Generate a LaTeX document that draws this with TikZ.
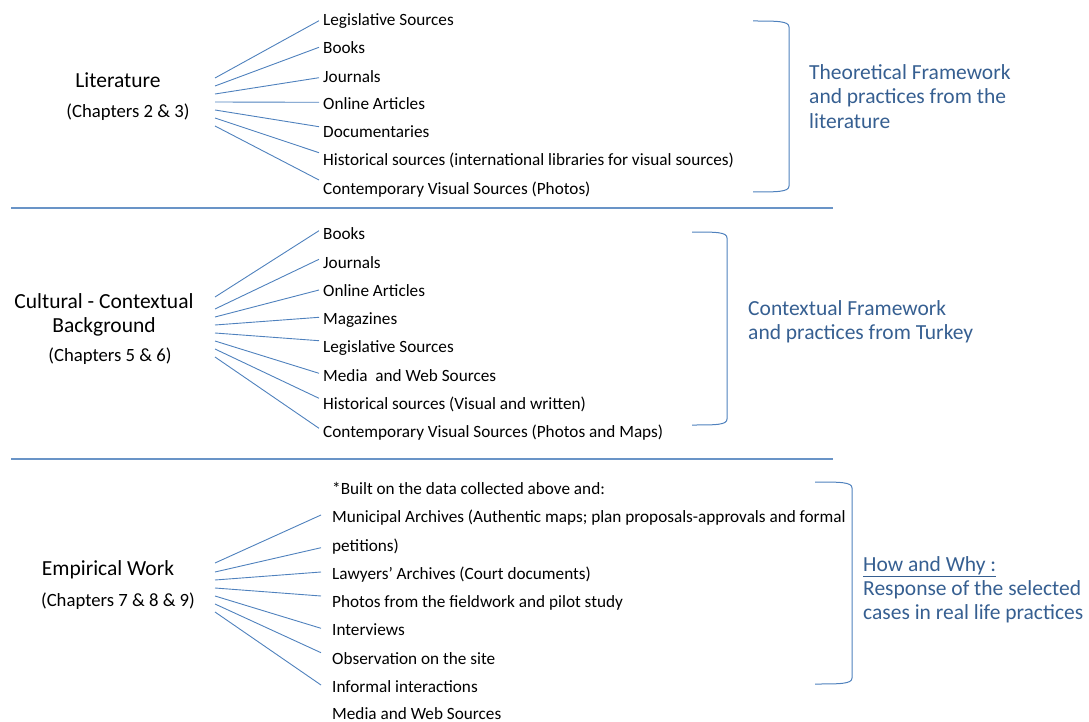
\documentclass[tikz,border=0pt]{standalone}
\usepackage{fontspec}
\setmainfont{Carlito}
\definecolor{lineblue}{HTML}{4F81BD}
\definecolor{textblue}{HTML}{365F91}
\begin{document}
\begin{tikzpicture}[x=1pt,y=-1pt,
  item/.style={anchor=west,inner sep=0pt,font=\fontsize{17.2}{20}\selectfont,text height=13pt,text depth=0pt},
  head/.style={inner sep=0pt,font=\fontsize{21.5}{24}\selectfont,text height=16pt,text depth=0pt},
  chap/.style={inner sep=0pt,font=\fontsize{18.7}{22}\selectfont,text height=14pt,text depth=0pt},
  frame/.style={anchor=west,inner sep=0pt,text=textblue,font=\fontsize{21.5}{24}\selectfont,text height=16pt,text depth=0pt},
  fan/.style={draw=lineblue,line width=0.9pt},
  rulerline/.style={draw=lineblue!85,line width=1.6pt},
  bracket/.style={draw=lineblue,line width=1pt}]
\useasboundingbox (0,0) rectangle (1089,722);

% ---------------- Literature ----------------
\node[head] (lit) at (118,80) {Literature};
\node[chap] (litch) at (128,111) {(Chapters 2 \& 3)};
\node[item] (L1) at (323,19.5) {Legislative Sources};
\node[item] (L2) at (323,47.5) {Books};
\node[item] (L3) at (323,76) {Journals};
\node[item] (L4) at (323,103.5) {Online Articles};
\node[item] (L5) at (323,131.5) {Documentaries};
\node[item] (L6) at (323,159.5) {Historical sources (international libraries for visual sources)};
\node[item] (L7) at (323,187.5) {Contemporary Visual Sources (Photos)};
\foreach \n/\sy/\dy in {1/78/-1.2,2/86/0.2,3/94/-1.7,4/102/1.2,5/110/4.8,6/118/6.8,7/126/7.5}{
  \coordinate (la\n) at (215,\sy);
  \draw[fan] (la\n) -- ([xshift=-4pt,yshift=\dy pt]L\n.west);
}
\draw[bracket] (753,21) .. controls (777,21) and (789,21) .. (789,27)
  -- (789,186) .. controls (789,192) and (777,192) .. (753,192);
\node[frame] (t1) at (809,71.5) {Theoretical Framework};
\node[frame] (t2) at (809,96) {and practices from the};
\node[frame] (t3) at (809,120.5) {literature};

\draw[rulerline] (11,208) -- (833,208);

% ---------------- Cultural background ----------------
\node[head] (cul1) at (104,300) {Cultural - Contextual};
\node[head] (cul2) at (104,324.5) {Background};
\node[chap] (culch) at (110,354) {(Chapters 5 \& 6)};
\node[item] (C1) at (323,233) {Books};
\node[item] (C2) at (323,262) {Journals};
\node[item] (C3) at (323,290) {Online Articles};
\node[item] (C4) at (323,318) {Magazines};
\node[item] (C5) at (323,346) {Legislative Sources};
\node[item] (C6) at (323,375) {Media~ and Web Sources};
\node[item] (C7) at (323,403) {Historical sources (Visual and written)};
\node[item] (C8) at (323,431) {Contemporary Visual Sources (Photos and Maps)};
\foreach \n/\sy/\dy in {1/297/2.3,2/309/2.7,3/317/0,4/325/0.7,5/333/5.3,6/341/1.7,7/349/4.7,8/357/2.7}{
  \coordinate (ca\n) at (215,\sy);
  \draw[fan] (ca\n) -- ([xshift=-4pt,yshift=\dy pt]C\n.west);
}
\draw[bracket] (692,232) .. controls (716,232) and (727,232) .. (727,238)
  -- (727,419) .. controls (727,425) and (716,425) .. (692,425);
\node[frame] (u1) at (748,307) {Contextual Framework};
\node[frame] (u2) at (748,331) {and practices from Turkey};

\draw[rulerline] (11,459) -- (833,459);

% ---------------- Empirical work ----------------
\node[head] (emp) at (108,567) {Empirical Work};
\node[chap] (empch) at (118,599) {(Chapters 7 \& 8 \& 9)};
\node[item] (E0) at (332,488) {*Built on the data collected above and:};
\node[item] (E1) at (332,516) {Municipal Archives (Authentic maps; plan proposals-approvals and formal};
\node[item] (E2) at (332,545) {petitions)};
\node[item] (E3) at (332,573) {Lawyers’ Archives (Court documents)};
\node[item] (E4) at (332,601) {Photos from the fieldwork and pilot study};
\node[item] (E5) at (332,629) {Interviews};
\node[item] (E6) at (332,658) {Observation on the site};
\node[item] (E7) at (332,686) {Informal interactions};
\node[item] (E8) at (332,712.5) {Media and Web Sources};
\foreach \n/\sy/\dy in {1/563/1,2/572/-2.7,3/580/1,4/588/5,5/596/0.7,6/604/5.3,7/612/1}{
  \coordinate (ea\n) at (215,\sy);
  \draw[fan] (ea\n) -- ([xshift=-11pt,yshift=\dy pt]E\n.west);
}
\draw[bracket] (815,482) .. controls (840,482) and (852,482) .. (852,488)
  -- (852,678) .. controls (852,684) and (840,684) .. (815,684);
\node[frame] (h1) at (863,563) {\underline{How and Why :}};
\node[frame] (h2) at (863,587) {Response of the selected};
\node[frame] (h3) at (863,611) {cases in real life practices};
\end{tikzpicture}
\end{document}
